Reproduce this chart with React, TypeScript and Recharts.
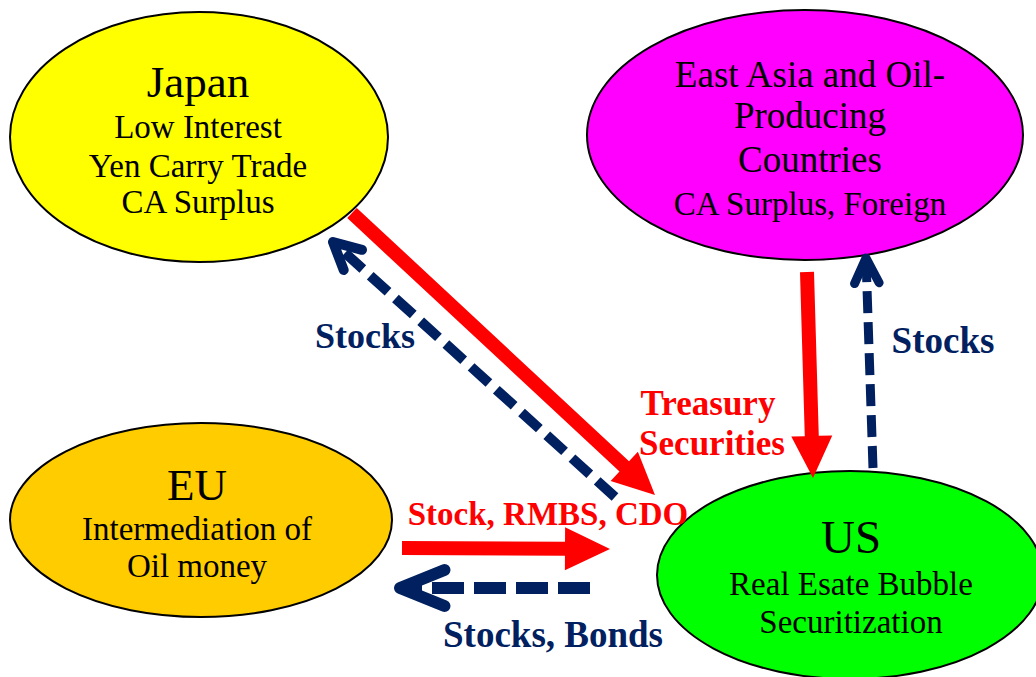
import React from 'react';
import { ComposedChart, XAxis, YAxis, Scatter, Line } from 'recharts';

const W = 1036;
const H = 677;

// regions (ellipses): centre and half axes in chart units
const regionX = [199, 805, 201, 850];
const regionY = [137, 135, 520, 575];
const regionRx = [189, 218, 191, 193];
const regionRy = [125, 125, 97, 104];
const regionText = [
  ['Japan', 'Low Interest', 'Yen Carry Trade', 'CA Surplus'],
  ['East Asia and Oil-', 'Producing', 'Countries', 'CA Surplus, Foreign'],
  ['EU', 'Intermediation of', 'Oil money'],
  ['US', 'Real Esate Bubble', 'Securitization'],
];

// capital flows: tail -> tip
const flowX0 = [352, 615, 807, 873, 402, 590];
const flowY0 = [213, 497, 272, 468, 548, 588];
const flowX1 = [655, 333, 813, 866, 610, 400];
const flowY1 = [495, 242, 478, 258, 549, 588];
const flowKind = ['debt', 'equity', 'debt', 'equity', 'debt', 'equity'];

// flow labels
const labelText = ['Stocks', 'Stocks', 'Treasury', 'Securities', 'Stock, RMBS, CDO', 'Stocks, Bonds'];
const labelX = [365, 943, 708, 712, 548, 553];
const labelY = [348, 353, 415, 455, 525, 647];
const labelKind = ['equity', 'equity', 'debt', 'debt', 'debt', 'equity'];

const FILLS = ['#ffff00', '#ff00ff', '#ffcc00', '#00ff00'];
const RED = '#ff0000';
const NAVY = '#002060';
const FONT = '"Liberation Serif", "Times New Roman", serif';

const regionLayout = [
  { dx: -1, base: [-40, 1, 40, 76], size: [45, 33, 33, 33] },
  { dx: 5, base: [-48, -7, 37, 80], size: [37, 37, 37, 33] },
  { dx: -4, base: [-20, 20, 57], size: [45, 33, 33] },
  { dx: 1, base: [-22, 20, 58], size: [47, 33, 33] },
];

const flowStyle = [
  { shaft: 14, headW: 40, headL: 42 },
  { width: 10, dash: '24 10', arm: 30, angle: 27 },
  { shaft: 14, headW: 41, headL: 42 },
  { width: 9, dash: '22 9', arm: 28, angle: 26 },
  { shaft: 14, headW: 43, headL: 45 },
  { width: 12, dash: '32 10', arm: 48, angle: 22 },
];

const labelSize = [36, 37, 35, 35, 33, 37];

const regions = regionX.map((x, i) => ({ x, y: regionY[i], rx: regionRx[i], ry: regionRy[i], idx: i }));
const labels = labelText.map((text, i) => ({ x: labelX[i], y: labelY[i], text, kind: labelKind[i], idx: i }));
const flows = flowX0.map((x, i) => [
  { x, y: flowY0[i] },
  { x: flowX1[i], y: flowY1[i] },
]);

// plot area is W x H with no margin, so 1 unit == 1 px on both axes
const RegionShape = (props: any) => {
  const { cx, cy, payload } = props;
  const i = payload.idx;
  const lay = regionLayout[i];
  return (
    <g>
      <ellipse cx={cx} cy={cy} rx={payload.rx} ry={payload.ry} fill={FILLS[i]} stroke="#000" strokeWidth={2} />
      {regionText[i].map((t, k) => (
        <text
          key={k}
          x={cx + lay.dx}
          y={cy + lay.base[k]}
          textAnchor="middle"
          fontFamily={FONT}
          fontSize={lay.size[k]}
          fill="#000"
        >
          {t}
        </text>
      ))}
    </g>
  );
};

const LabelShape = (props: any) => {
  const { cx, cy, payload } = props;
  return (
    <text
      x={cx}
      y={cy}
      textAnchor="middle"
      fontFamily={FONT}
      fontWeight="bold"
      fontSize={labelSize[payload.idx]}
      fill={payload.kind === 'debt' ? RED : NAVY}
    >
      {payload.text}
    </text>
  );
};

function arrowDot(i: number) {
  let tail: { x: number; y: number } | null = null;
  return (props: any) => {
    const { cx, cy, index, points } = props;
    if (index === 0) {
      tail = { x: cx, y: cy };
      return <g key={`f${i}-0`} />;
    }
    const t = points && points[0] ? points[0] : tail;
    if (!t) return <g key={`f${i}-1`} />;
    const dx = cx - t.x;
    const dy = cy - t.y;
    const len = Math.hypot(dx, dy);
    const ux = dx / len;
    const uy = dy / len;
    const nx = -uy;
    const ny = ux;
    const s: any = flowStyle[i];
    if (flowKind[i] === 'debt') {
      const bx = cx - ux * s.headL;
      const by = cy - uy * s.headL;
      const a = s.shaft / 2;
      const h = s.headW / 2;
      const pts = [
        [t.x + nx * a, t.y + ny * a],
        [bx + nx * a, by + ny * a],
        [bx + nx * h, by + ny * h],
        [cx, cy],
        [bx - nx * h, by - ny * h],
        [bx - nx * a, by - ny * a],
        [t.x - nx * a, t.y - ny * a],
      ];
      return <polygon key={`f${i}-1`} points={pts.map((p) => p.join(',')).join(' ')} fill={RED} />;
    }
    const ang = (s.angle * Math.PI) / 180;
    const bx = -ux;
    const by = -uy;
    const c = Math.cos(ang);
    const sn = Math.sin(ang);
    const a1x = cx + (bx * c - by * sn) * s.arm;
    const a1y = cy + (bx * sn + by * c) * s.arm;
    const a2x = cx + (bx * c + by * sn) * s.arm;
    const a2y = cy + (-bx * sn + by * c) * s.arm;
    return (
      <g key={`f${i}-1`}>
        <line
          x1={t.x}
          y1={t.y}
          x2={cx}
          y2={cy}
          stroke={NAVY}
          strokeWidth={s.width}
          strokeDasharray={s.dash}
        />
        <path
          d={`M${a1x},${a1y} L${cx},${cy} L${a2x},${a2y}`}
          fill="none"
          stroke={NAVY}
          strokeWidth={s.width}
          strokeLinecap="round"
          strokeLinejoin="round"
        />
      </g>
    );
  };
}

export default function App() {
  return (
    <div style={{ position: 'absolute', left: 0, top: 0, width: W, height: H, background: '#fff' }}>
      <ComposedChart width={W} height={H} margin={{ top: 0, right: 0, bottom: 0, left: 0 }}>
        <XAxis type="number" dataKey="x" domain={[0, W]} allowDataOverflow hide />
        <YAxis type="number" dataKey="y" domain={[0, H]} allowDataOverflow reversed hide />
        <Scatter
          data={regions}
          dataKey="y"
          shape={RegionShape}
          isAnimationActive={false}
          zIndex={100}
        />
        {flows.map((d, i) => (
          <Line
            key={i}
            data={d}
            dataKey="y"
            stroke="none"
            dot={arrowDot(i)}
            activeDot={false}
            isAnimationActive={false}
            zIndex={200}
          />
        ))}
        <Scatter
          data={labels}
          dataKey="y"
          shape={LabelShape}
          isAnimationActive={false}
          zIndex={300}
        />
      </ComposedChart>
    </div>
  );
}
